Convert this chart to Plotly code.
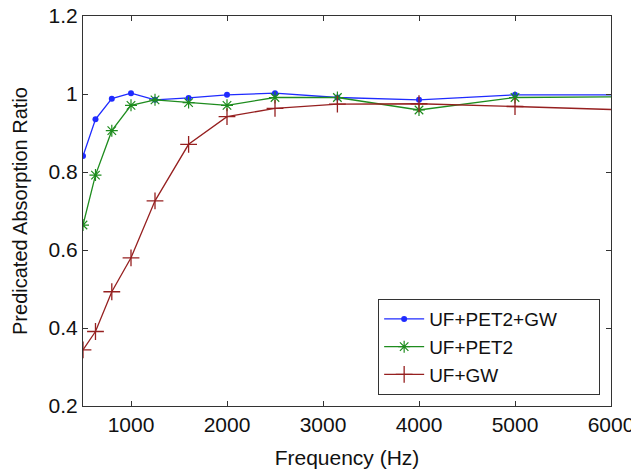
import plotly.graph_objects as go

freq = [500, 630, 800, 1000, 1250, 1600, 2000, 2500, 3150, 4000, 5000, 6300]
uf_pet2_gw = [0.841, 0.935, 0.988, 1.002, 0.985, 0.990, 0.998, 1.002, 0.991, 0.985, 0.998, 0.998]
uf_pet2 = [0.664, 0.792, 0.906, 0.971, 0.985, 0.978, 0.971, 0.991, 0.991, 0.959, 0.991, 0.993]
uf_gw = [0.344, 0.391, 0.493, 0.580, 0.726, 0.871, 0.942, 0.963, 0.974, 0.975, 0.968, 0.958]

series_names = ["UF+PET2+GW", "UF+PET2", "UF+GW"]

x_ticks = [1000, 2000, 3000, 4000, 5000, 6000]
y_ticks = [0.2, 0.4, 0.6, 0.8, 1.0, 1.2]
y_tick_text = ["0.2", "0.4", "0.6", "0.8", "1", "1.2"]

FONT = "Liberation Sans, Arial, Helvetica, sans-serif"
PAD = "\u00a0" * 7  # widen legend box to match reference

fig = go.Figure()
fig.add_trace(go.Scatter(
    x=freq, y=uf_pet2_gw, name=series_names[0] + PAD, mode="lines+markers",
    line=dict(color="#1f2bff", width=1.3),
    marker=dict(symbol="circle", size=6, color="#1f2bff"),
))
fig.add_trace(go.Scatter(
    x=freq, y=uf_pet2, name=series_names[1], mode="lines+markers",
    line=dict(color="#1e8c1e", width=1.3),
    marker=dict(symbol="asterisk-open", size=10, color="#1e8c1e", line=dict(width=1.2, color="#1e8c1e")),
))
fig.add_trace(go.Scatter(
    x=freq, y=uf_gw, name=series_names[2], mode="lines+markers",
    line=dict(color="#962020", width=1.3),
    marker=dict(symbol="cross-thin-open", size=12, color="#962020", line=dict(width=1.3, color="#962020")),
))

axis_common = dict(
    showgrid=False, zeroline=False, showline=True, linecolor="#333333", linewidth=1.2,
    mirror="ticks", ticks="inside", ticklen=5, tickcolor="#333333", automargin=False,
    ticklabeloverflow="allow",
    tickfont=dict(family=FONT, size=21, color="#111111"),
)

# page body has an 8px default margin: compensate in size and margins
fig.update_layout(
    width=631, height=462,
    margin=dict(l=75, r=28, t=8, b=64),
    paper_bgcolor="white", plot_bgcolor="white",
    font=dict(family=FONT, size=19, color="#111111"),
    xaxis=dict(range=[500, 6000], tickvals=x_ticks, ticktext=[str(v) for v in x_ticks],
               title=dict(text="Frequency (Hz)", font=dict(family=FONT, size=21)),
               **axis_common),
    yaxis=dict(range=[0.2, 1.2], tickvals=y_ticks, ticktext=y_tick_text,
               title=dict(text="Predicated Absorption Ratio", font=dict(family=FONT, size=20)),
               **axis_common),
    legend=dict(x=0.559, y=0.028, xanchor="left", yanchor="bottom",
                bgcolor="white", bordercolor="#333333", borderwidth=1,
                font=dict(family=FONT, size=19), tracegroupgap=0,
                itemwidth=40),
    showlegend=True,
)

fig.write_html("out.html")
